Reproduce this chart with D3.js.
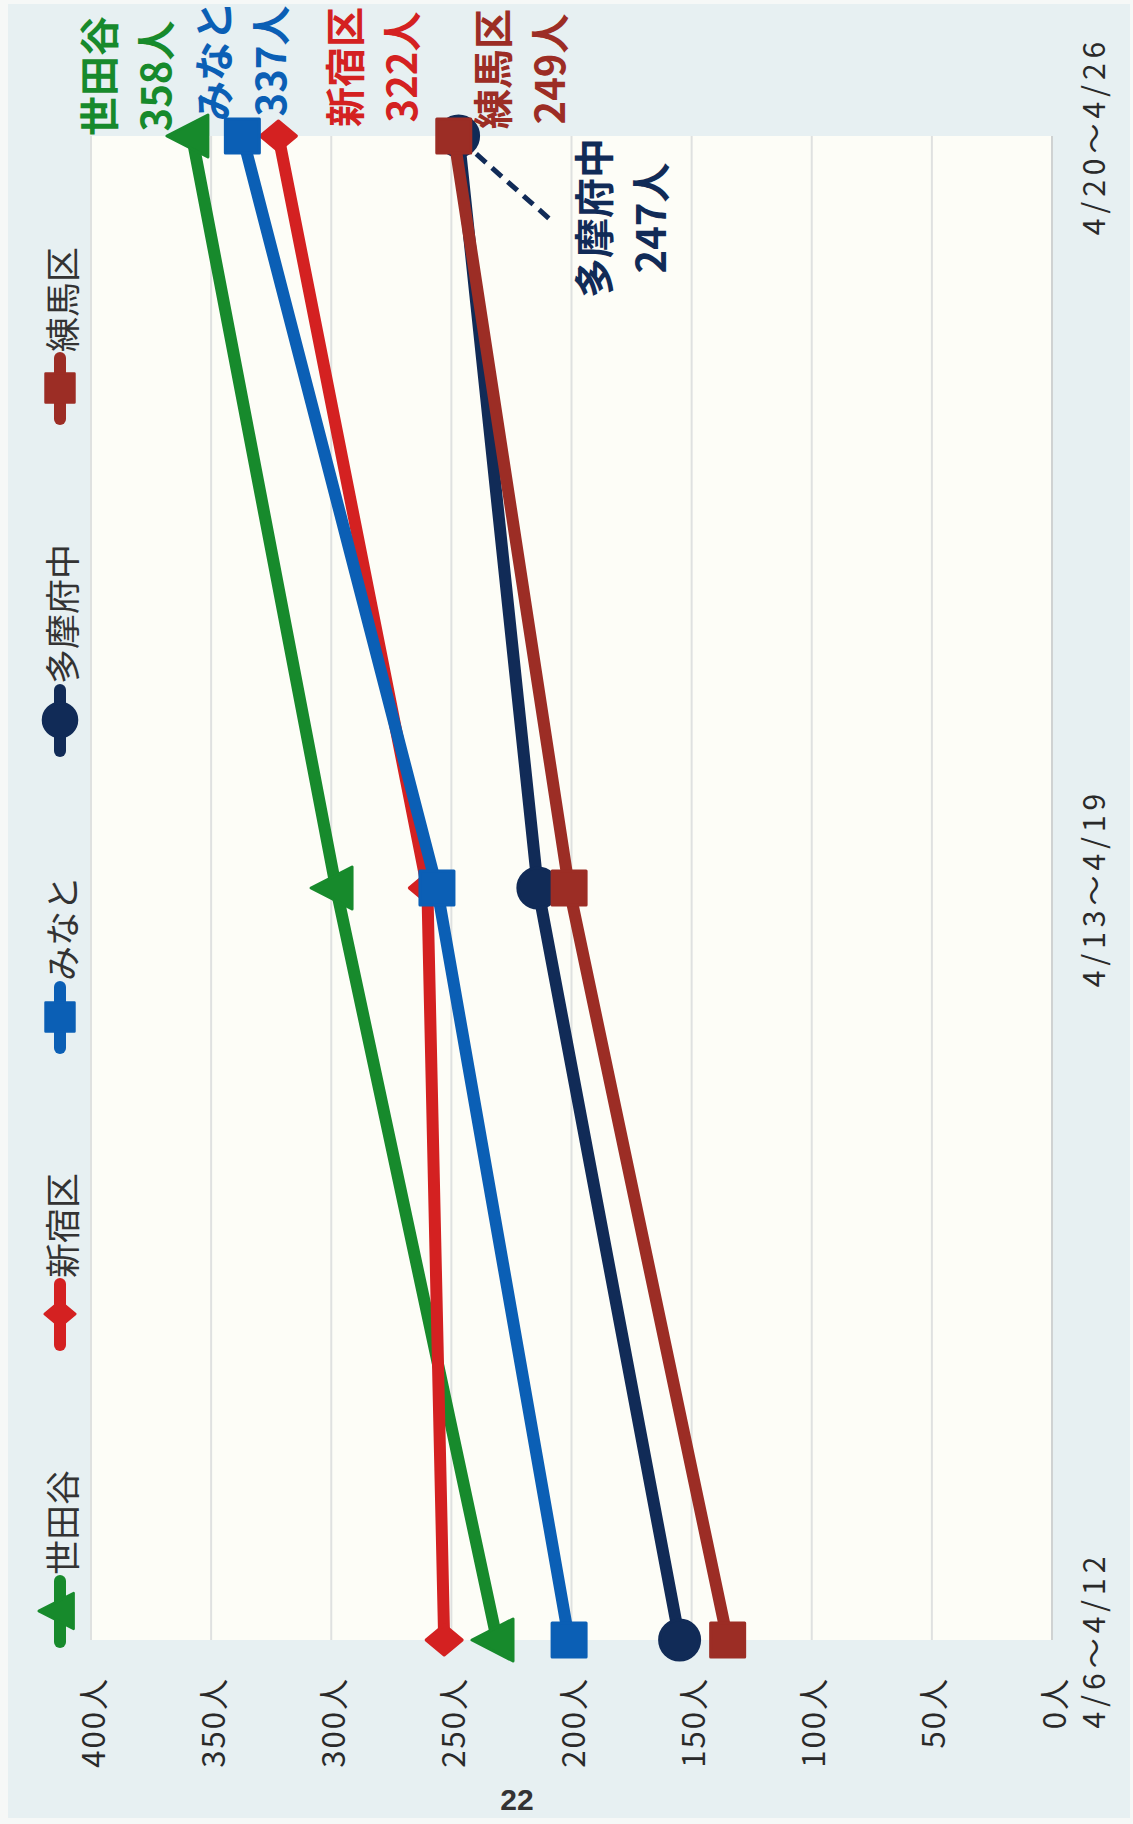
<!DOCTYPE html>
<html><head><meta charset="utf-8">
<script src="https://cdn.jsdelivr.net/npm/d3@7"></script>
<style>html,body{margin:0;padding:0;background:#fff;} svg{display:block;}</style>
</head><body>
<script>
// ---- data ----
const categories = ["4/6～4/12", "4/13～4/19", "4/20～4/26"];
const seriesNames = ["世田谷", "新宿区", "みなと", "多摩府中", "練馬区"];
const setagaya = [231, 298, 358];
const shinjuku = [253, 260, 322];
const minato = [201, 256, 337];
const tamaFuchu = [155, 214, 247];
const nerima = [135, 201, 249];
const yTicks = [0, 50, 100, 150, 200, 250, 300, 350, 400];
const tickLabels = yTicks.map(v => v + "人");
const pageNumber = "22";

// ---- styling / layout ----
const values = [setagaya, shinjuku, minato, tamaFuchu, nerima];
const colors = ["#178a2c", "#d42121", "#0b5fb5", "#112b57", "#9c2d25"];
const symbols = ["triangle", "diamond", "square", "circle", "square"];
const labelDx = [60, 69, 75, -82, 67];
const labelDy = [-95, 65, -30, 133, 37];
const FONT = "'Noto Sans CJK JP','Noto Sans',sans-serif";

const W = 1133, H = 1824;
const svg = d3.select("body").append("svg").attr("width", W).attr("height", H);
svg.append("rect").attr("width", W).attr("height", H).attr("fill", "#f6f8f7");
svg.append("rect").attr("x", 8).attr("y", 4).attr("width", W - 11).attr("height", H - 10).attr("fill", "#e7f0f2");

// chart drawn unrotated (width H, height W) then rotated -90deg
const g = svg.append("g").attr("transform", `translate(0,${H}) rotate(-90)`);
const x = d3.scalePoint().domain(categories).range([184, 1688]);
const y = d3.scaleLinear().domain([0, 400]).range([1052, 91]);
const [x0, x1] = x.range();

g.append("rect").attr("x", x0).attr("y", y(400)).attr("width", x1 - x0).attr("height", y(0) - y(400)).attr("fill", "#fdfdf7");

// gridlines
g.selectAll("line.grid").data(yTicks).join("line").attr("class", "grid")
  .attr("x1", x0).attr("x2", x1).attr("y1", d => y(d)).attr("y2", d => y(d))
  .attr("stroke", d => d === 0 ? "#cfd2d2" : "#dfe1e0").attr("stroke-width", 2);

// value axis labels
g.selectAll("text.ytick").data(yTicks).join("text").attr("class", "ytick")
  .attr("x", x0 - 37).attr("y", d => y(d)).attr("text-anchor", "end").attr("dominant-baseline", "central")
  .attr("font-family", FONT).attr("font-size", 31).attr("letter-spacing", 2).attr("fill", "#2a2a2a")
  .text((d, i) => tickLabels[i]);

// category labels
g.selectAll("text.xtick").data(categories).join("text").attr("class", "xtick")
  .attr("x", d => x(d)).attr("y", y(0) + 40).attr("text-anchor", "middle").attr("dominant-baseline", "central")
  .attr("font-family", FONT).attr("font-size", 30).attr("letter-spacing", 5).attr("fill", "#2a2a2a")
  .text(d => d);

// marker shapes
function markerPath(type) {
  if (type === "square") return "M-17,-17H17V17H-17Z";
  if (type === "diamond") return "M0,-18L15,0L0,18L-15,0Z";
  if (type === "triangle") return "M0,-25L21,16L-21,16Z";
  return d3.symbol(d3.symbolCircle, Math.PI * 20 * 20)();
}

// data labels (drawn below series)
const last = categories.length - 1;
values.forEach((vals, s) => {
  const lx = x(categories[last]) + labelDx[s];
  const ly = y(vals[last]) + labelDy[s];
  const t = g.append("text").attr("text-anchor", "middle").attr("font-family", FONT)
    .attr("font-weight", "bold").attr("font-size", 40).attr("fill", colors[s]);
  t.append("tspan").attr("x", lx).attr("y", ly).attr("dominant-baseline", "central").text(seriesNames[s]);
  t.append("tspan").attr("x", lx).attr("y", ly + 57).attr("dominant-baseline", "central").text(vals[last] + "人");
});

// leader line for 多摩府中
{
  const s = 3;
  const px = x(categories[last]), py = y(values[s][last]);
  g.append("line").attr("x1", px - 4).attr("y1", py + 2).attr("x2", px - 83).attr("y2", py + 91)
    .attr("stroke", colors[s]).attr("stroke-width", 5).attr("stroke-dasharray", "13,8");
}

// series
const line = d3.line().x((d, i) => x(categories[i])).y(d => y(d));
values.forEach((vals, s) => {
  g.append("path").attr("d", line(vals)).attr("fill", "none").attr("stroke", colors[s])
    .attr("stroke-width", 12).attr("stroke-linejoin", "round").attr("stroke-linecap", "round");
  g.selectAll(null).data(vals).join("path")
    .attr("transform", (d, i) => `translate(${x(categories[i])},${y(d)})`)
    .attr("d", markerPath(symbols[s])).attr("fill", colors[s])
    .attr("stroke", colors[s]).attr("stroke-width", 3).attr("stroke-linejoin", "round");
});

// legend
let cx = 213;
const ly = 60;
seriesNames.forEach((name, s) => {
  g.append("line").attr("x1", cx - 31).attr("x2", cx + 30).attr("y1", ly).attr("y2", ly)
    .attr("stroke", colors[s]).attr("stroke-width", 12).attr("stroke-linecap", "round");
  g.append("path").attr("transform", `translate(${cx},${ly}) scale(0.85)`).attr("d", markerPath(symbols[s]))
    .attr("fill", colors[s]).attr("stroke", colors[s]).attr("stroke-width", 3).attr("stroke-linejoin", "round");
  const t = g.append("text").attr("x", cx + 36).attr("y", ly).attr("dominant-baseline", "central")
    .attr("font-family", FONT).attr("font-size", 35).attr("fill", "#333").text(name);
  cx = cx + 36 + t.node().getComputedTextLength() + 125 + 31;
});

// page number
svg.append("text").attr("x", 517).attr("y", 1810).attr("text-anchor", "middle")
  .attr("font-family", "'Liberation Sans Narrow','Liberation Sans',sans-serif").attr("font-size", 30)
  .attr("font-weight", "bold").attr("fill", "#333").text(pageNumber);
</script>
</body></html>
